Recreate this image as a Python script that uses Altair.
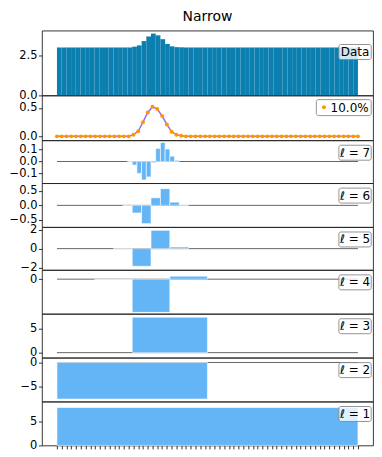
import altair as alt
import pandas as pd

FONT = "DejaVu Sans"

# ---- data ----
N = 64
idx = list(range(N))
X_MAX = 63  # last sample index

data_values = ([3.0] * 16 +
               [3.05, 3.13, 3.40, 3.69, 3.87, 3.76, 3.52, 3.22, 3.07, 3.02, 3.01] +
               [3.0] * 37)

pct_values = ([0.0] * 16 +
              [0.03, 0.09, 0.25, 0.42, 0.52, 0.48, 0.36, 0.21, 0.08, 0.03, 0.01] +
              [0.0] * 37)

ell7 = ([0.0] * 15 +
        [-0.003, -0.03, -0.10, -0.155, -0.13, -0.01, 0.11, 0.16, 0.105, 0.045, 0.01] +
        [0.0] * 38)
ell6 = [0.0] * 7 + [-0.02, -0.26, -0.625, 0.26, 0.57, 0.11, 0.01] + [0.0] * 18
ell5 = [0.0] * 3 + [-0.02, -1.86, 1.93, 0.17] + [0.0] * 9
ell4 = [0.0, -0.02, -1.9, 0.17, 0.0, 0.0, 0.0, 0.0]
ell3 = [0.0, 7.3, 0.0, 0.0]
ell2 = [-7.54, 0.0]
ell1 = [7.77]

levels = [("ℓ = 7", ell7, [-0.182, 0.179], [-0.1, 0.0, 0.1], ".1f"),
          ("ℓ = 6", ell6, [-0.74, 0.76], [-0.5, 0.0, 0.5], ".1f"),
          ("ℓ = 5", ell5, [-2.24, 2.28], [-2, 0, 2], "d"),
          ("ℓ = 4", ell4, [-1.98, 0.53], [-2, 0], "d"),
          ("ℓ = 3", ell3, [-1.03, 8.0], [0, 5], "d"),
          ("ℓ = 2", ell2, [-8.05, 1.0], [-5, 0], "d"),
          ("ℓ = 1", ell1, [0.0, 9.0], [0, 5], "d")]
heights = [65, 45, 43, 44, 43, 44, 44, 44, 44]

X_DOMAIN = [-3.15, 66.15]
W = 332
BAR_DARK = "#0b80b0"
BAR_LIGHT = "#64b5f6"
PURPLE = "#9b6bef"
ORANGE = "#ff9800"


def xs():
    return alt.Scale(domain=X_DOMAIN, nice=False, zero=False)


def xaxis(last):
    if not last:
        return None
    return alt.Axis(values=idx, labels=False, title=None, grid=False, domain=False,
                    tickSize=3.5, tickWidth=0.8, tickColor="black")


def yaxis(values, fmt):
    return alt.Axis(values=values, format=fmt, title=None, grid=False, domain=False,
                    tickSize=3.5, tickWidth=0.8, tickColor="black",
                    labelColor="black", labelFontSize=11.5, labelFont=FONT,
                    labelPadding=1.5, labelOverlap=False)


def legend_box(x0, x1, y0, y1):
    return alt.Chart(pd.DataFrame({"a": [0]})).mark_rect(
        fill="white", fillOpacity=0.8, stroke="#888888", strokeWidth=0.9, cornerRadius=2
    ).encode(x=alt.value(x0), x2=alt.value(x1), y=alt.value(y0), y2=alt.value(y1))


def legend_text(txt, x, y, align="center"):
    return alt.Chart(pd.DataFrame({"t": [txt]})).mark_text(
        font=FONT, fontSize=12, color="black", align=align, baseline="middle"
    ).encode(text="t:N", x=alt.value(x), y=alt.value(y))


def bars_df(vals):
    w = X_MAX / len(vals)
    rows = [{"x0": k * w, "x1": (k + 1) * w, "v": v} for k, v in enumerate(vals) if v != 0]
    return pd.DataFrame(rows)


# ---- panel 1: data ----
w1 = X_MAX / N
df1 = pd.DataFrame({"x0": [k * w1 for k in idx], "x1": [(k + 1) * w1 for k in idx],
                    "v": data_values})
p1_bars = alt.Chart(df1).mark_rect(color=BAR_DARK).encode(
    x=alt.X("x0:Q", scale=xs(), axis=None), x2="x1:Q",
    y=alt.Y("v:Q", scale=alt.Scale(domain=[0, 4.06], nice=False, zero=False),
            axis=yaxis([0, 2.5], ".1f")),
    y2=alt.datum(0),
)
p1 = alt.layer(p1_bars, legend_box(297.8, 330.2, 14, 29),
               legend_text("Data", 314, 21.5)).properties(
    width=W, height=heights[0],
    title=alt.TitleParams("Narrow", fontSize=14, font=FONT, fontWeight="normal",
                          anchor="middle", color="black", offset=7))

# ---- panel 2: percentage line ----
df2 = pd.DataFrame({"x": idx, "v": pct_values})
y2s = alt.Scale(domain=[-0.068, 0.72], nice=False, zero=False)
p2_line = alt.Chart(df2).mark_line(color=PURPLE, strokeWidth=1.5).encode(
    x=alt.X("x:Q", scale=xs(), axis=None),
    y=alt.Y("v:Q", scale=y2s, axis=yaxis([0, 0.5], ".1f")))
p2_pts = alt.Chart(df2).mark_circle(color=ORANGE, size=16, opacity=1).encode(
    x=alt.X("x:Q", scale=xs(), axis=None),
    y=alt.Y("v:Q", scale=y2s, axis=yaxis([0, 0.5], ".1f")))
leg_dot = alt.Chart(pd.DataFrame({"a": [0]})).mark_circle(
    color=ORANGE, size=16, opacity=1).encode(x=alt.value(282.8), y=alt.value(12))
p2 = alt.layer(p2_line, p2_pts, legend_box(275.2, 330.2, 4.3, 20.3), leg_dot,
               legend_text("10.0%", 289.5, 12.3, align="left")).properties(
    width=W, height=heights[1])

panels = [p1, p2]
for i, (lab, vals, dom, ticks, fmt) in enumerate(levels):
    last = (i == len(levels) - 1)
    ysc = alt.Scale(domain=dom, nice=False, zero=False)
    zero = alt.Chart(pd.DataFrame({"x0": [0], "x1": [X_MAX], "y": [0]})).mark_rule(
        color="#666666", strokeWidth=1).encode(
        x=alt.X("x0:Q", scale=xs(), axis=xaxis(last)), x2="x1:Q",
        y=alt.Y("y:Q", scale=ysc, axis=yaxis(ticks, fmt)))
    bars = alt.Chart(bars_df(vals)).mark_rect(
        color=BAR_LIGHT, stroke="white", strokeWidth=0.6).encode(
        x=alt.X("x0:Q", scale=xs(), axis=xaxis(last)), x2="x1:Q",
        y=alt.Y("v:Q", scale=ysc, axis=yaxis(ticks, fmt)), y2=alt.datum(0))
    panel = alt.layer(zero, bars, legend_box(297.8, 330.2, 5, 20),
                      legend_text(lab, 314, 12.5)).properties(
        width=W, height=heights[i + 2])
    panels.append(panel)

chart = alt.vconcat(*panels, spacing=0, bounds="flush").properties(
    padding={"left": 0, "top": 0, "right": 0, "bottom": 0}
).configure_view(stroke="#222222", strokeWidth=0.9)

chart.save("out.html", embed_options={"renderer": "svg", "actions": False})
